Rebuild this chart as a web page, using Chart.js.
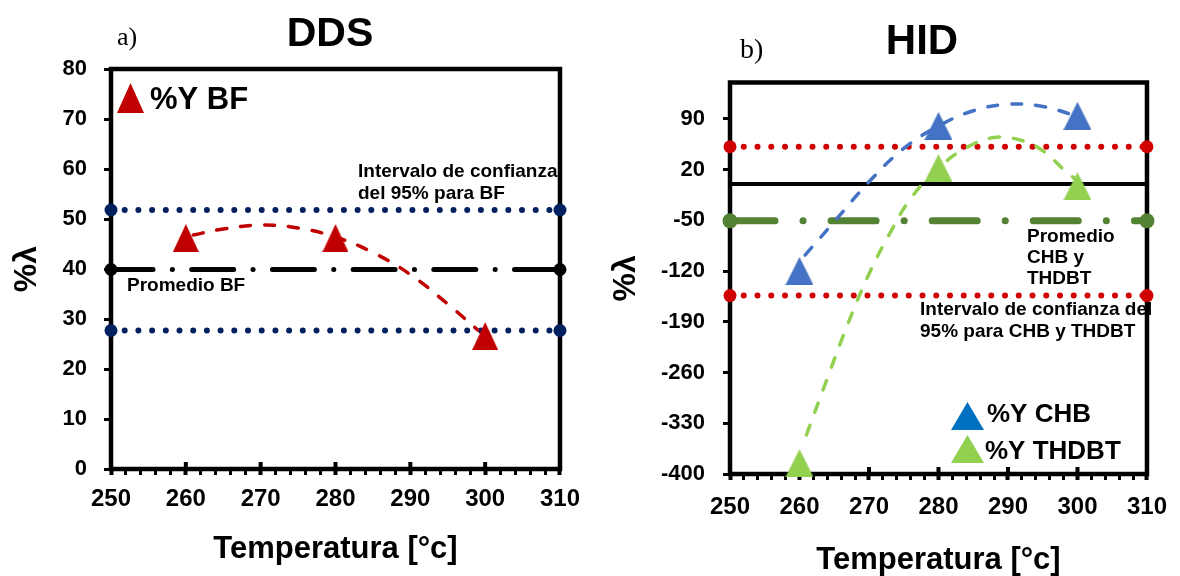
<!DOCTYPE html>
<html lang="es">
<head>
<meta charset="utf-8">
<title>DDS / HID</title>
<script src="https://cdn.jsdelivr.net/npm/chart.js@4.4.0/dist/chart.umd.min.js"></script>
<style>
  html, body { margin: 0; padding: 0; background: #fff; }
  #wrap { position: relative; width: 1180px; height: 576px; overflow: hidden; }
  #wrap canvas { position: absolute; top: 0; }
  #chartDDS { left: 0; }
  #chartHID { left: 590px; }
</style>
</head>
<body>
<div id="wrap">
  <canvas id="chartDDS" width="590" height="576"></canvas>
  <canvas id="chartHID" width="590" height="576"></canvas>
</div>
<script>
// ---- Datos ---------------------------------------------------------------
const xMin = 250, xMax = 310;
const temps = [260, 280, 300];
const xTickLabels = [250, 260, 270, 280, 290, 300, 310];

// a) DDS
const ddsYTicks = [0, 10, 20, 30, 40, 50, 60, 70, 80];
const bfYield = [46.2, 46.2, 26.6];
const bfFitTemp = [261, 265, 270, 275, 280, 285, 290, 295, 299];
const bfFitYield = [46.8, 48.0, 48.8, 48.2, 46.4, 43.3, 38.9, 33.0, 27.8];
const bfMean = 39.9;
const bfCI = [51.8, 27.7];

// b) HID
const hidYTicks = [-400, -330, -260, -190, -120, -50, 20, 90];
const chbYield = [-120, 80, 94];
const thdbtYield = [-385, 22, -3];
const chbFitTemp = [260.8, 265, 270, 275, 280, 285, 290, 295, 299.8];
const chbFitYield = [-98, -52, 3, 49, 80, 101, 110, 107, 94];
const thdbtFitTemp = [261, 264, 267, 270, 273, 276, 280, 284, 288, 292, 295, 298, 299.5];
const thdbtFitYield = [-346, -268, -192, -124, -68, -20, 22, 50, 64, 60, 46, 20, 8];
const hidMean = -50.8;
const hidCI = [51.4, -153.9];
const hidZero = 0;

// ---- Helpers -------------------------------------------------------------
const SANS = '"Liberation Sans", Arial, sans-serif';
const SERIF = '"Liberation Serif", "Times New Roman", serif';

const pts = (xs, ys) => xs.map((x, i) => ({ x, y: ys[i] }));

function triangleMarker(color, w, h) {
  const c = document.createElement("canvas");
  c.width = w;
  c.height = h;
  const g = c.getContext("2d");
  g.fillStyle = color;
  g.beginPath();
  g.moveTo(w / 2, 0);
  g.lineTo(w, h);
  g.lineTo(0, h);
  g.closePath();
  g.fill();
  return c;
}

function markers(xs, ys, color, w) {
  return {
    data: pts(xs, ys),
    pointStyle: triangleMarker(color, w, 28),
    pointRadius: 14,
    showLine: false,
    clip: false,
  };
}

function trend(xs, ys, color) {
  return {
    data: pts(xs, ys),
    showLine: true,
    borderColor: color,
    borderWidth: 3.5,
    borderDash: [10, 14],
    borderCapStyle: "round",
    tension: 0.4,
    pointRadius: 0,
    clip: false,
  };
}

// linea horizontal de referencia con puntos en los extremos
function hLine(value, color, width, dash, dotRadius) {
  return {
    data: [{ x: xMin, y: value }, { x: xMax, y: value }],
    showLine: true,
    borderColor: color,
    borderWidth: width,
    borderDash: dash,
    borderCapStyle: "round",
    pointRadius: dotRadius,
    pointBorderWidth: 0,
    pointBackgroundColor: color,
    clip: false,
  };
}

function xScale(labelPad, titlePad, height) {
  return {
    type: "linear",
    min: xMin,
    max: xMax,
    ticks: {
      stepSize: 2,
      autoSkip: false,
      maxRotation: 0,
      padding: labelPad,
      color: "#000",
      font: { family: SANS, size: 24, weight: "bold" },
      callback: (v) => (xTickLabels.includes(v) ? String(v) : ""),
    },
    grid: {
      drawOnChartArea: false,
      tickLength: 6,
      tickWidth: (ctx) => (ctx.tick && ctx.tick.value % 10 === 0 ? 4 : 3),
      tickColor: "#000",
    },
    border: { display: false },
    title: {
      display: true,
      text: "Temperatura [°c]",
      color: "#000",
      font: { family: SANS, size: 31, weight: "bold", lineHeight: 1 },
      padding: { top: 0, bottom: titlePad },
    },
    afterFit: (s) => { s.height = height; },
  };
}

function yScale(min, max, ticks, labelPad, titlePad, width) {
  return {
    type: "linear",
    min,
    max,
    afterBuildTicks: (s) => { s.ticks = ticks.map((v) => ({ value: v })); },
    ticks: {
      padding: labelPad,
      color: "#000",
      font: { family: SANS, size: 22, weight: "bold" },
    },
    grid: {
      drawOnChartArea: false,
      tickLength: 7,
      tickWidth: 3,
      tickColor: "#000",
    },
    border: { display: false },
    title: {
      display: true,
      text: "%λ",
      color: "#000",
      font: { family: SANS, size: 32, weight: "bold", lineHeight: 1 },
      padding: { top: titlePad, bottom: 0 },
    },
    afterFit: (s) => { s.width = width; },
  };
}

// marco negro del area de trazado + marcas mayores hacia dentro
const framePlugin = {
  id: "frame",
  beforeDatasetsDraw(chart) {
    const { ctx, chartArea: a } = chart;
    const xs = chart.scales.x;
    ctx.save();
    ctx.strokeStyle = "#000";
    ctx.lineWidth = 4.5;
    ctx.strokeRect(a.left, a.top, a.right - a.left, a.bottom - a.top);
    ctx.lineWidth = 4;
    xTickLabels.forEach((v) => {
      const px = xs.getPixelForValue(v);
      ctx.beginPath();
      ctx.moveTo(px, a.bottom - 7);
      ctx.lineTo(px, a.bottom);
      ctx.stroke();
    });
    ctx.restore();
  },
};

// textos y leyenda dibujados sobre el lienzo
function notesPlugin(texts, keys) {
  return {
    id: "notes",
    afterDraw(chart) {
      const ctx = chart.ctx;
      ctx.save();
      keys.forEach((k) => {
        ctx.fillStyle = k.color;
        ctx.beginPath();
        ctx.moveTo(k.x + k.w / 2, k.y);
        ctx.lineTo(k.x + k.w, k.y + k.h);
        ctx.lineTo(k.x, k.y + k.h);
        ctx.closePath();
        ctx.fill();
      });
      ctx.fillStyle = "#000";
      ctx.textBaseline = "middle";
      texts.forEach((t) => {
        ctx.font = t.font;
        ctx.textAlign = t.align || "left";
        ctx.fillText(t.text, t.x, t.y);
      });
      ctx.restore();
    },
  };
}

const small = `bold 19px ${SANS}`;

const common = {
  responsive: false,
  animation: false,
  events: [],
  plugins: { legend: { display: false }, tooltip: { enabled: false } },
};

// ---- a) DDS --------------------------------------------------------------
new Chart(document.getElementById("chartDDS"), {
  type: "scatter",
  data: {
    datasets: [
      markers(temps, bfYield, "#C00000", 26),
      trend(bfFitTemp, bfFitYield, "#C00000"),
      hLine(bfCI[0], "#002060", 6, [0, 13.7], 6.5),
      hLine(bfCI[1], "#002060", 6, [0, 13.7], 6.5),
      hLine(bfMean, "#000", 5, [42, 19.3, 0.1, 19.3], 6.5),
    ],
  },
  options: {
    ...common,
    layout: { padding: { top: 69, right: 27, bottom: 0, left: 0 } },
    scales: {
      x: xScale(10, 11.5, 107),
      y: yScale(0, 80, ddsYTicks, 17, 11, 111),
    },
  },
  plugins: [
    framePlugin,
    notesPlugin(
      [
        { text: "DDS", x: 330, y: 35, font: `bold 41px ${SANS}`, align: "center" },
        { text: "a)", x: 117, y: 38, font: `26px ${SERIF}` },
        { text: "%Y BF", x: 150, y: 100, font: `bold 31px ${SANS}` },
        { text: "Intervalo de confianza", x: 358, y: 172, font: small },
        { text: "del 95% para BF", x: 358, y: 194, font: small },
        { text: "Promedio BF", x: 127, y: 286, font: small },
      ],
      [{ x: 117, y: 83, w: 27, h: 30, color: "#C00000" }]
    ),
  ],
});

// ---- b) HID --------------------------------------------------------------
new Chart(document.getElementById("chartHID"), {
  type: "scatter",
  data: {
    datasets: [
      markers(temps, chbYield, "#4472C4", 28),
      markers(temps, thdbtYield, "#92D050", 28),
      trend(chbFitTemp, chbFitYield, "#4472C4"),
      trend(thdbtFitTemp, thdbtFitYield, "#92D050"),
      hLine(hidCI[0], "#D00000", 6, [0, 13.75], 6.5),
      hLine(hidCI[1], "#D00000", 6, [0, 13.75], 6.5),
      hLine(hidMean, "#548235", 7, [45, 28, 0.1, 28], 7.5),
      hLine(hidZero, "#000", 4, [], 0),
    ],
  },
  options: {
    ...common,
    layout: { padding: { top: 82.5, right: 24, bottom: 0, left: 0 } },
    scales: {
      x: xScale(13, 0.5, 102),
      y: yScale(-400, 140, hidYTicks, 18, 20, 140),
    },
  },
  plugins: [
    framePlugin,
    notesPlugin(
      [
        { text: "HID", x: 332, y: 42, font: `bold 42px ${SANS}`, align: "center" },
        { text: "b)", x: 150, y: 51, font: `28px ${SERIF}` },
        { text: "Promedio", x: 437, y: 237, font: small },
        { text: "CHB y", x: 437, y: 258, font: small },
        { text: "THDBT", x: 437, y: 279, font: small },
        { text: "Intervalo de confianza del", x: 330, y: 310, font: small },
        { text: "95% para CHB y THDBT", x: 330, y: 332, font: small },
        { text: "%Y CHB", x: 397, y: 415, font: `bold 26px ${SANS}` },
        { text: "%Y THDBT", x: 395, y: 452, font: `bold 26px ${SANS}` },
      ],
      [
        { x: 361, y: 402, w: 33, h: 28, color: "#0070C0" },
        { x: 361, y: 435, w: 33, h: 28, color: "#92D050" },
      ]
    ),
  ],
});
</script>
</body>
</html>
